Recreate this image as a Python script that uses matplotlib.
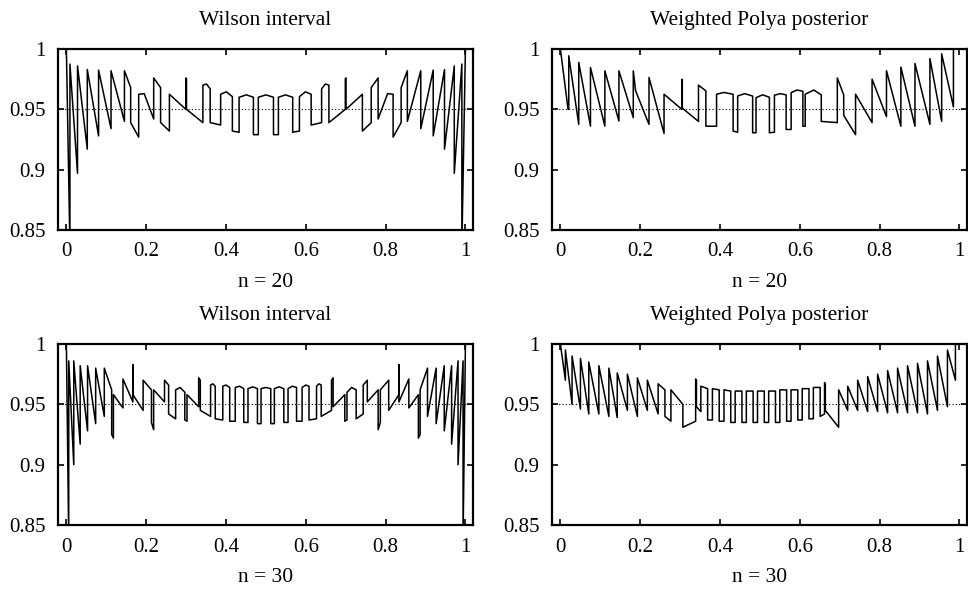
import numpy as np
from matplotlib import pyplot as plt

plt.rcParams['font.family'] = ['Liberation Serif', 'DejaVu Serif']

# coverage curves, (p, coverage) vertices; a jump repeats p
wilson20_p = [0, .0089, .0089, .0279, .0279, .0524, .0524, .0807, .0807, .1119, .1119, .1455, .1455,
              .1611, .1611, .1812, .1812, .195, .2188, .2188, .2361, .2361, .2582, .2582, .2993, .2993,
              .3010, .3010, .3421, .3421, .351, .3604, .3604, .3866, .3866, .401, .4160, .4160, .4328,
              .4328, .451, .4687, .4687, .4810, .4810, .500,
              .5190, .5190, .5313, .5313, .549, .5672, .5672, .5840, .5840, .599, .6134, .6134, .6396,
              .6396, .649, .6579, .6579, .6990, .6990, .7007, .7007, .7418, .7418, .7639, .7639, .7812,
              .7812, .805, .8188, .8188, .8389, .8389, .8545, .8545, .8881, .8881, .9193, .9193, .9476,
              .9476, .9721, .9721, .9911, .9911, 1.0]
wilson20_c = [1.0, .836, .9875, .897, .986, .917, .983, .928, .9825, .934, .982, .940, .982,
              .968, .939, .927, .9625, .963, .942, .976, .968, .939, .932, .9625, .950, .976,
              .9755, .950, .939, .970, .971, .967, .939, .937, .9625, .9645, .9605, .932, .931,
              .960, .962, .960, .929, .929, .960, .962,
              .960, .929, .929, .960, .962, .960, .931, .932, .9605, .9645, .9625, .937, .939,
              .967, .971, .970, .939, .950, .9755, .976, .950, .9625, .932, .939, .968, .976,
              .942, .963, .9625, .927, .939, .968, .982, .940, .982, .934, .9825, .928, .983,
              .917, .986, .897, .9875, .836, 1.0]

polya20_p = [0, .0193, .021, .021, .046, .046, .0754, .0754, .1115, .1115, .1467, .1467, .1827, .1827,
             .1886, .2221, .2221, .2598, .2598, .3043, .3043, .3055, .3055, .3461, .3461, .3646, .3646,
             .3914, .3914, .41, .4329, .4329, .4443, .4443, .462, .4818, .4818, .4903, .4903, .507,
             .5238, .5238, .5364, .5364, .551, .5657, .5657, .5783, .5783, .593, .6077, .6077, .6135,
             .6135, .635, .6538, .6538, .694, .694, .71, .71, .7397, .7397, .7811, .7811, .8172, .8172,
             .8533, .8533, .8886, .8886, .9261, .9261, .9555, .9555, .985, .985, 1.0]
polya20_c = [1.0, .95, .95, .9944, .9375, .9889, .9361, .9847, .9361, .9819, .9403, .9819, .9431, .9819,
             .9653, .9375, .9764, .930, .9625, .950, .975, .974, .951, .940, .970, .9653, .936,
             .936, .9625, .964, .9625, .932, .931, .9611, .963, .961, .9306, .9306, .9597, .962,
             .960, .9306, .931, .9617, .963, .962, .9333, .9333, .9639, .966, .965, .936, .936,
             .9625, .966, .962, .940, .939, .976, .962, .945, .929, .9625, .939, .975, .944, .982,
             .936, .985, .936, .988, .9375, .992, .940, .996, .952, 1.0, 1.0]

wilson30_p = [0, .0059, .0059, .0185, .0185, .0346, .0346, .0531, .0531, .0734, .0734, .0950, .0950,
              .1135, .1135, .1179, .1179, .1418, .1418, .1666, .1666, .1667, .1667, .1923, .1923, .2132,
              .2132, .2187, .2187, .2459, .2459, .2562, .2562, .2738, .2738, .285, .2968, .2968, .3023,
              .3023, .3315, .3315, .3356, .3356, .3614, .3614, .367, .3731, .3731, .3920, .3920, .400,
              .4093, .4093, .4232, .4232, .434, .4445, .4445, .4551, .4551, .467, .4788, .4788, .4878,
              .4878, .5,
              .5122, .5122, .5212, .5212, .533, .5449, .5449, .5555, .5555, .566, .5768, .5768, .5907,
              .5907, .600, .6080, .6080, .6269, .6269, .633, .6386, .6386, .6644, .6644, .6685, .6685,
              .6977, .6977, .7032, .7032, .715, .7262, .7262, .7438, .7438, .7541, .7541, .7813, .7813,
              .7868, .7868, .8077, .8077, .8333, .8333, .8334, .8334, .8582, .8582, .8821, .8821, .8865,
              .8865, .9050, .9050, .9266, .9266, .9469, .9469, .9654, .9654, .9815, .9815, .9941, .9941,
              1.0]
wilson30_c = [1.0, .837, .986, .900, .986, .917, .982, .928, .982, .934, .980, .940, .980,
              .962, .925, .922, .958, .947, .971, .952, .983, .982, .958, .945, .970, .962,
              .935, .929, .962, .952, .970, .966, .942, .938, .962, .964, .960, .937, .936,
              .958, .948, .972, .970, .945, .940, .966, .967, .965, .938, .937, .965, .966,
              .964, .936, .936, .964, .965, .963, .935, .935, .963, .9645, .963, .934, .934,
              .963, .964,
              .963, .934, .934, .963, .9645, .963, .935, .935, .963, .965, .964, .936, .936,
              .964, .966, .965, .937, .938, .965, .967, .966, .940, .945, .970, .972, .948,
              .958, .936, .937, .960, .964, .962, .938, .942, .966, .970, .952, .962, .929,
              .935, .962, .970, .945, .958, .982, .983, .952, .971, .947, .958, .922, .925,
              .962, .980, .940, .980, .934, .982, .928, .982, .917, .986, .900, .986, .837,
              1.0]

polya30_p = [0, .0126, .0126, .0293, .0293, .0503, .0503, .0712, .0712, .0964, .0964, .1215, .1215,
             .1425, .1425, .168, .168, .193, .193, .218, .218, .245, .245, .262, .262, .277, .277,
             .307, .307, .339, .339, .341, .341, .352, .352, .369, .369, .381, .381, .398, .398,
             .41, .41, .427, .427, .438, .438, .455, .455, .466, .466, .483, .483, .494, .494,
             .511, .511, .522, .522, .539, .539, .55, .55, .567, .567, .578, .578, .595, .595,
             .606, .606, .623, .623, .634, .634, .651, .651, .662, .662, .664, .664, .6973, .6973,
             .72, .72, .745, .745, .77, .77, .795, .795, .82, .82, .845, .845, .87, .87, .895, .895,
             .92, .92, .945, .945, .97, .97, .99, .99, 1.0]
polya30_c = [1.0, .97, .995, .95, .99, .946, .988, .942, .985, .942, .982, .94, .98,
             .939, .976, .945, .975, .94, .972, .945, .97, .942, .967, .962, .94, .936, .962,
             .950, .931, .936, .971, .970, .948, .944, .965, .963, .937, .937, .963, .962, .936,
             .936, .962, .961, .935, .935, .961, .961, .935, .935, .961, .961, .935, .935, .961,
             .961, .935, .935, .961, .961, .935, .935, .962, .962, .936, .936, .962, .962, .937,
             .937, .963, .963, .938, .938, .964, .964, .940, .942, .968, .967, .945, .931, .962,
             .945, .965, .945, .97, .944, .973, .944, .975, .943, .978, .943, .98, .943, .982, .943, .984,
             .942, .986, .945, .99, .948, .995, .97, 1.0, 1.0]

titles = ['Wilson interval', 'Weighted Polya posterior', 'Wilson interval', 'Weighted Polya posterior']
sample_labels = ['n = 20', 'n = 20', 'n = 30', 'n = 30']
nominal = 0.95
x_ticks = [0, 0.2, 0.4, 0.6, 0.8, 1]
x_tick_labels = ['0', '0.2', '0.4', '0.6', '0.8', '1']
y_ticks = [0.85, 0.9, 0.95, 1]
y_tick_labels = ['0.85', '0.9', '0.95', '1']

curves = [(wilson20_p, wilson20_c), (polya20_p, polya20_c),
          (wilson30_p, wilson30_c), (polya30_p, polya30_c)]

W, H = 968, 592
fig = plt.figure(figsize=(W / 100, H / 100), dpi=100)
# axes boxes in pixels: left, top, right, bottom
boxes = [(58, 49, 473, 230), (552, 49, 967, 230),
         (58, 344, 473, 525), (552, 344, 967, 525)]

for i, (p, c) in enumerate(curves):
    l, t, r, b = boxes[i]
    ax = fig.add_axes([l / W, 1 - b / H, (r - l) / W, (b - t) / H])
    ax.plot(p, c, color='black', lw=1.1)
    ax.axhline(nominal, color='black', lw=0.8, ls=(0, (1, 2)))
    ax.set_xlim(-0.021, 1.019)
    ax.set_ylim(0.85, 1.0)
    ax.set_xticks(x_ticks)
    ax.set_xticklabels(x_tick_labels)
    ax.set_yticks(y_ticks)
    ax.set_yticklabels(y_tick_labels)
    ax.tick_params(direction='in', top=True, right=True, length=4, width=1.2,
                   labelsize=15, pad=9)
    for s in ax.spines.values():
        s.set_linewidth(1.6)
    ax.set_title(titles[i], fontsize=15.5, pad=17)
    ax.set_xlabel(sample_labels[i], fontsize=15.5, labelpad=8)

fig.savefig('out.png', dpi=100)
